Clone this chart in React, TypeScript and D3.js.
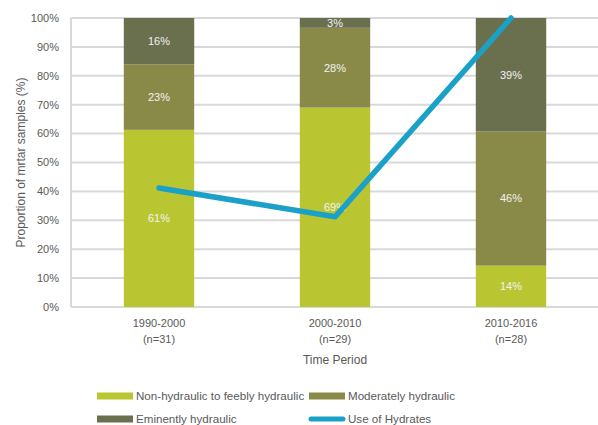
import { useEffect, useRef } from 'react';
import * as d3 from 'd3';

// Time periods and sample sizes
const periods = ['1990-2000', '2000-2010', '2010-2016'];
const sampleSizes = ['(n=31)', '(n=29)', '(n=28)'];

// Proportions (%) per hydraulicity class
const nonHydraulic = [61.3, 69.0, 14.3];
const moderatelyHydraulic = [22.6, 27.6, 46.4];
const eminentlyHydraulic = [16.1, 3.4, 39.3];

// Use of hydrates (%)
const hydrates = [41.2, 31.2, 100];

const yTicks = [0, 10, 20, 30, 40, 50, 60, 70, 80, 90, 100];

const seriesNames = ['Non-hydraulic to feebly hydraulic', 'Moderately hydraulic', 'Eminently hydraulic'];
const seriesColors = ['#bac631', '#8a8a48', '#6a6f4e'];
const lineName = 'Use of Hydrates';
const lineColor = '#1ba1c7';

export default function App() {
  const svgRef = useRef<SVGSVGElement>(null);

  useEffect(() => {
    if (!svgRef.current) return;
    const width = 598;
    const height = 425;
    const margin = { left: 71, right: -1, top: 18, bottom: 118 };
    const font = '"Liberation Sans", Arial, sans-serif';
    const textColor = '#595959';

    const svg = d3.select(svgRef.current);
    svg.selectAll('*').remove();
    svg.attr('width', width).attr('height', height);

    const x = d3.scaleBand<string>()
      .domain(periods)
      .range([margin.left, width - margin.right])
      .paddingInner(0.6)
      .paddingOuter(0.3);

    const y = d3.scaleLinear()
      .domain([0, 100])
      .range([height - margin.bottom, margin.top]);

    // Gridlines
    svg.append('g')
      .selectAll('line')
      .data(yTicks)
      .join('line')
      .attr('x1', margin.left)
      .attr('x2', width)
      .attr('y1', d => y(d))
      .attr('y2', d => y(d))
      .attr('stroke', '#d9d9d9')
      .attr('stroke-width', 2);

    // left axis line
    svg.append('line')
      .attr('x1', margin.left)
      .attr('x2', margin.left)
      .attr('y1', y(100))
      .attr('y2', y(0))
      .attr('stroke', '#d9d9d9')
      .attr('stroke-width', 2);

    // Y tick labels
    svg.append('g')
      .selectAll('text')
      .data(yTicks)
      .join('text')
      .attr('x', 59)
      .attr('y', d => y(d))
      .attr('dy', '0.35em')
      .attr('text-anchor', 'end')
      .attr('font-family', font)
      .attr('font-size', 11)
      .attr('fill', textColor)
      .text(d => `${d}%`);

    // Stacked bars
    const rows = periods.map((p, i) => ({
      period: p,
      s0: nonHydraulic[i],
      s1: moderatelyHydraulic[i],
      s2: eminentlyHydraulic[i]
    }));
    const stack = d3.stack<any>().keys(['s0', 's1', 's2']);
    const stacked = stack(rows);

    const layers = svg.append('g')
      .selectAll('g')
      .data(stacked)
      .join('g')
      .attr('fill', (_, i) => seriesColors[i]);

    layers.selectAll('rect')
      .data(d => d)
      .join('rect')
      .attr('x', d => x(d.data.period)!)
      .attr('width', x.bandwidth())
      .attr('y', d => y(d[1]))
      .attr('height', d => y(d[0]) - y(d[1]));

    layers.selectAll('text')
      .data(d => d)
      .join('text')
      .attr('x', d => x(d.data.period)! + x.bandwidth() / 2)
      .attr('y', d => (y(d[0]) + y(d[1])) / 2)
      .attr('dy', '0.35em')
      .attr('text-anchor', 'middle')
      .attr('font-family', font)
      .attr('font-size', 11)
      .attr('fill', '#f2f2f2')
      .text(d => `${Math.round(d[1] - d[0])}%`);

    // Hydrates line
    const line = d3.line<number>()
      .x((_, i) => x(periods[i])! + x.bandwidth() / 2)
      .y(d => y(d));
    svg.append('path')
      .datum(hydrates)
      .attr('d', line)
      .attr('fill', 'none')
      .attr('stroke', lineColor)
      .attr('stroke-width', 5.5)
      .attr('stroke-linecap', 'round')
      .attr('stroke-linejoin', 'round');

    // X labels
    const xl = svg.append('g')
      .selectAll('g')
      .data(periods)
      .join('g')
      .attr('transform', d => `translate(${x(d)! + x.bandwidth() / 2},0)`);
    xl.append('text')
      .attr('y', 327)
      .attr('text-anchor', 'middle')
      .attr('font-family', font)
      .attr('font-size', 11)
      .attr('fill', textColor)
      .text(d => d);
    xl.append('text')
      .attr('y', 343)
      .attr('text-anchor', 'middle')
      .attr('font-family', font)
      .attr('font-size', 11)
      .attr('fill', textColor)
      .text((_, i) => sampleSizes[i]);

    // Axis titles
    svg.append('text')
      .attr('x', x(periods[1])! + x.bandwidth() / 2)
      .attr('y', 364)
      .attr('text-anchor', 'middle')
      .attr('font-family', font)
      .attr('font-size', 12)
      .attr('fill', textColor)
      .text('Time Period');

    svg.append('text')
      .attr('transform', `translate(25,${(y(0) + y(100)) / 2}) rotate(-90)`)
      .attr('text-anchor', 'middle')
      .attr('font-family', font)
      .attr('font-size', 12)
      .attr('fill', textColor)
      .text('Proportion of mrtar samples (%)');

    // Legend
    const legendItems = [
      { name: seriesNames[0], color: seriesColors[0], type: 'rect', x: 97, y: 396 },
      { name: seriesNames[1], color: seriesColors[1], type: 'rect', x: 309, y: 396 },
      { name: seriesNames[2], color: seriesColors[2], type: 'rect', x: 97, y: 419 },
      { name: lineName, color: lineColor, type: 'line', x: 309, y: 419 }
    ];
    const lg = svg.append('g')
      .selectAll('g')
      .data(legendItems)
      .join('g')
      .attr('transform', d => `translate(${d.x},${d.y})`);
    lg.filter(d => d.type === 'rect')
      .append('rect')
      .attr('x', 0)
      .attr('y', -3.5)
      .attr('width', 36)
      .attr('height', 7)
      .attr('fill', d => d.color);
    lg.filter(d => d.type === 'line')
      .append('line')
      .attr('x1', 2)
      .attr('x2', 34)
      .attr('y1', 0)
      .attr('y2', 0)
      .attr('stroke', d => d.color)
      .attr('stroke-width', 5)
      .attr('stroke-linecap', 'round');
    lg.append('text')
      .attr('x', 39)
      .attr('y', 0)
      .attr('dy', '0.35em')
      .attr('font-family', font)
      .attr('font-size', 11.6)
      .attr('fill', textColor)
      .text(d => d.name);
  }, []);

  return (
    <div style={{ position: 'absolute', left: 0, top: 0, background: '#fff' }}>
      <svg ref={svgRef} style={{ display: 'block' }}></svg>
    </div>
  );
}
